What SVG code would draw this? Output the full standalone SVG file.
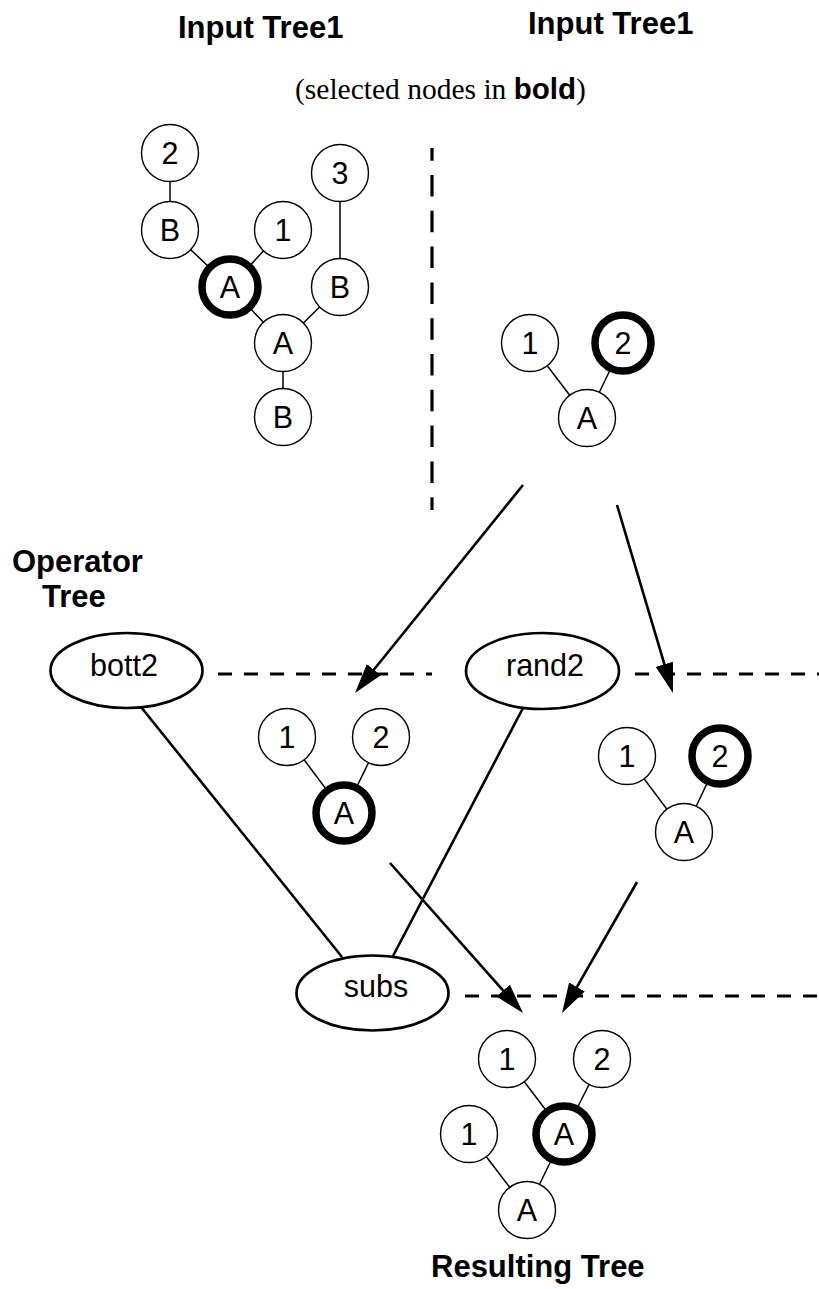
<svg xmlns="http://www.w3.org/2000/svg" width="819" height="1289" viewBox="0 0 819 1289">
  <style>
    .title { font-family: "Liberation Sans", Arial, sans-serif; font-weight: bold; font-size: 31px; fill: #000; }
    .sub { font-family: "Liberation Serif", "Times New Roman", serif; font-size: 29.5px; fill: #000; }
    .subb { font-family: "Liberation Sans", Arial, sans-serif; font-weight: bold; }
    .lbl { font-family: "Liberation Sans", Arial, sans-serif; font-size: 30.5px; fill: #000; text-anchor: middle; }
    .node { fill: #fff; stroke: #000; stroke-width: 1.4; }
    .sel { fill: #fff; stroke: #000; stroke-width: 7.5; }
    .op { fill: #fff; stroke: #000; stroke-width: 2.7; }
    .edge { stroke: #000; stroke-width: 1.5; fill: none; }
    .link { stroke: #000; stroke-width: 2.6; fill: none; }
    .arrow { stroke: #000; stroke-width: 2.6; fill: none; marker-end: url(#head); }
    .dashh { stroke: #000; stroke-width: 3; stroke-dasharray: 14 12; fill: none; }
    .dashv { stroke: #000; stroke-width: 3.2; stroke-dasharray: 21.5 14.3; stroke-dashoffset: 8.8; fill: none; }
  </style>
  <defs>
    <marker id="head" viewBox="0 0 30 18" markerWidth="30" markerHeight="18" refX="20" refY="9" orient="auto" markerUnits="userSpaceOnUse">
      <path d="M0,0 L30,9 L0,18 z" fill="#000"/>
    </marker>
  </defs>
  <rect width="819" height="1289" fill="#fff"/>

  <!-- headings -->
  <g id="headings">
    <text class="title" x="178" y="38">Input Tree1</text>
    <text class="title" x="528" y="34">Input Tree1</text>
    <text class="sub" x="295" y="99">(selected nodes in <tspan class="subb">bold</tspan>)</text>
    <text class="title" x="12" y="572">Operator</text>
    <text class="title" x="42" y="607">Tree</text>
    <text class="title" x="431" y="1277">Resulting Tree</text>
  </g>

  <!-- separators -->
  <g id="separators">
    <line class="dashv" x1="432" y1="148" x2="432" y2="510"/>
    <line class="dashh" x1="218" y1="674" x2="432" y2="674"/>
    <line class="dashh" x1="635" y1="674" x2="819" y2="674"/>
    <line class="dashh" x1="465" y1="996" x2="819" y2="996"/>
  </g>

  <!-- connectors: tree edges, operator links, flow arrows -->
  <g id="connectors">
    <line class="edge" x1="170" y1="153" x2="170" y2="230"/>
    <line class="edge" x1="170" y1="230" x2="230" y2="287"/>
    <line class="edge" x1="283" y1="230" x2="230" y2="287"/>
    <line class="edge" x1="230" y1="287" x2="283" y2="343"/>
    <line class="edge" x1="340" y1="173" x2="340" y2="287"/>
    <line class="edge" x1="340" y1="287" x2="283" y2="343"/>
    <line class="edge" x1="283" y1="343" x2="283" y2="417"/>

    <line class="edge" x1="530" y1="343" x2="587" y2="418"/>
    <line class="edge" x1="623" y1="343" x2="587" y2="418"/>

    <line class="edge" x1="287" y1="737" x2="344" y2="813"/>
    <line class="edge" x1="381" y1="737" x2="344" y2="813"/>

    <line class="edge" x1="627" y1="756" x2="684" y2="832"/>
    <line class="edge" x1="720" y1="756" x2="684" y2="832"/>

    <line class="edge" x1="507" y1="1059" x2="564" y2="1134"/>
    <line class="edge" x1="602" y1="1059" x2="564" y2="1134"/>
    <line class="edge" x1="469" y1="1134" x2="527" y2="1210"/>
    <line class="edge" x1="564" y1="1134" x2="527" y2="1210"/>

    <line class="link" x1="141" y1="707" x2="342" y2="957"/>
    <line class="link" x1="523" y1="708" x2="393" y2="956"/>

    <line class="arrow" x1="523" y1="485" x2="361.3" y2="685.2"/>
    <line class="arrow" x1="617" y1="505" x2="670.1" y2="683.4"/>
    <line class="arrow" x1="390" y1="863" x2="516.4" y2="1005.5"/>
    <line class="arrow" x1="637" y1="882" x2="567" y2="1004.3"/>
  </g>

  <!-- input tree 1 -->
  <g id="t1-2"><circle class="node" cx="170" cy="153" r="28.5"/><text class="lbl" x="170" y="164">2</text></g>
  <g id="t1-B1"><circle class="node" cx="170" cy="230" r="28.5"/><text class="lbl" x="170" y="241">B</text></g>
  <g id="t1-1"><circle class="node" cx="283" cy="230" r="28.5"/><text class="lbl" x="283" y="241">1</text></g>
  <g id="t1-A1"><circle class="sel" cx="230" cy="287" r="28"/><text class="lbl" x="230" y="298">A</text></g>
  <g id="t1-3"><circle class="node" cx="340" cy="173" r="28.5"/><text class="lbl" x="340" y="184">3</text></g>
  <g id="t1-B2"><circle class="node" cx="340" cy="287" r="28.5"/><text class="lbl" x="340" y="298">B</text></g>
  <g id="t1-A2"><circle class="node" cx="283" cy="343" r="28.5"/><text class="lbl" x="283" y="354">A</text></g>
  <g id="t1-B3"><circle class="node" cx="283" cy="417" r="28.5"/><text class="lbl" x="283" y="428">B</text></g>

  <!-- input tree 2 -->
  <g id="t2-1"><circle class="node" cx="530" cy="343" r="28.5"/><text class="lbl" x="530" y="354">1</text></g>
  <g id="t2-2"><circle class="sel" cx="623" cy="343" r="28"/><text class="lbl" x="623" y="354">2</text></g>
  <g id="t2-A"><circle class="node" cx="587" cy="418" r="28.5"/><text class="lbl" x="587" y="429">A</text></g>

  <!-- operators -->
  <g id="op-bott2"><ellipse class="op" cx="126.5" cy="670.5" rx="76" ry="37.5"/><text class="lbl" x="124" y="676">bott2</text></g>
  <g id="op-rand2"><ellipse class="op" cx="542.5" cy="671" rx="76.5" ry="38"/><text class="lbl" x="545" y="676">rand2</text></g>
  <g id="op-subs"><ellipse class="op" cx="372.5" cy="993" rx="76" ry="37.5"/><text class="lbl" x="376" y="997">subs</text></g>

  <!-- bott2 selection -->
  <g id="t3-1"><circle class="node" cx="287" cy="737" r="28.5"/><text class="lbl" x="287" y="748">1</text></g>
  <g id="t3-2"><circle class="node" cx="381" cy="737" r="28.5"/><text class="lbl" x="381" y="748">2</text></g>
  <g id="t3-A"><circle class="sel" cx="344" cy="813" r="28"/><text class="lbl" x="344" y="824">A</text></g>

  <!-- rand2 selection -->
  <g id="t4-1"><circle class="node" cx="627" cy="756" r="28.5"/><text class="lbl" x="627" y="767">1</text></g>
  <g id="t4-2"><circle class="sel" cx="720" cy="756" r="28"/><text class="lbl" x="720" y="767">2</text></g>
  <g id="t4-A"><circle class="node" cx="684" cy="832" r="28.5"/><text class="lbl" x="684" y="843">A</text></g>

  <!-- resulting tree -->
  <g id="r-1a"><circle class="node" cx="507" cy="1059" r="28.5"/><text class="lbl" x="507" y="1070">1</text></g>
  <g id="r-2"><circle class="node" cx="602" cy="1059" r="28.5"/><text class="lbl" x="602" y="1070">2</text></g>
  <g id="r-A1"><circle class="sel" cx="564" cy="1134" r="28"/><text class="lbl" x="564" y="1145">A</text></g>
  <g id="r-1b"><circle class="node" cx="469" cy="1134" r="28.5"/><text class="lbl" x="469" y="1145">1</text></g>
  <g id="r-A2"><circle class="node" cx="527" cy="1210" r="28.5"/><text class="lbl" x="527" y="1221">A</text></g>
</svg>
